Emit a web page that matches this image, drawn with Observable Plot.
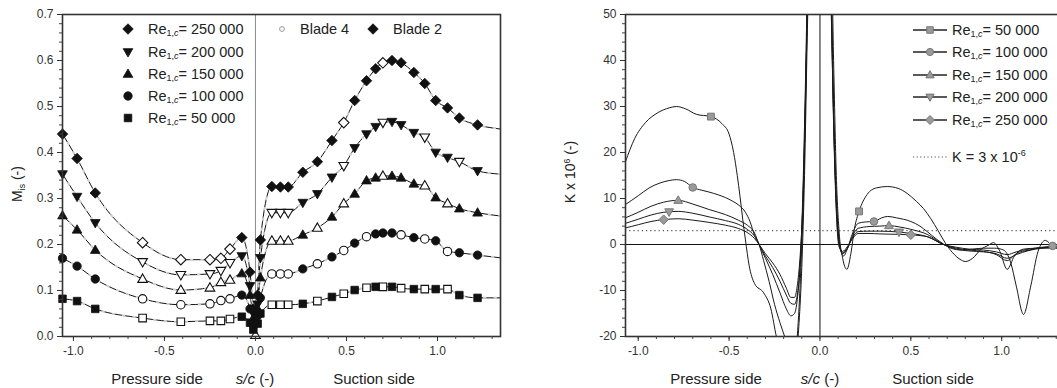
<!DOCTYPE html>
<html>
<head>
<meta charset="utf-8">
<script src="https://cdn.jsdelivr.net/npm/d3@7"></script>
<script src="https://cdn.jsdelivr.net/npm/@observablehq/plot@0.6"></script>
<style>
  html, body { margin: 0; padding: 0; background: #fff; overflow: hidden; }
  body { font-family: "Liberation Sans", Arial, Helvetica, sans-serif; color: #222; }
  #wrap { position: relative; width: 1057px; height: 388px; overflow: hidden; }
  .panel { position: absolute; top: 0; }
  .t { position: absolute; white-space: nowrap; line-height: 1; }
  sub { font-size: 0.62em; vertical-align: -0.3em; line-height: 0; }
  sup { font-size: 0.62em; vertical-align: 0.6em; line-height: 0; }
  svg.sym { position: absolute; overflow: visible; }
</style>
</head>
<body>
<div id="wrap"></div>
<script>
// ---------- Isentropic Mach number M_is along the blade surface ----------
// Pressure-tap positions s/c (negative = pressure side, positive = suction side)
const stationS = [-1.06, -0.98, -0.88, -0.62, -0.41, -0.25, -0.19, -0.14, -0.075, -0.03,
  -0.012, 0, 0.012, 0.027, 0.09, 0.137, 0.18, 0.26, 0.34, 0.42,
  0.485, 0.545, 0.61, 0.66, 0.70, 0.75, 0.80, 0.87, 0.93, 0.99,
  1.055, 1.12, 1.22, 1.346];

const reLabels = ["250 000", "200 000", "150 000", "100 000", "50 000"];

const mis250 = [0.44, 0.387, 0.312, 0.204, 0.167, 0.167, 0.170, 0.190, 0.215, 0.14,
  0.06, 0.005, 0.09, 0.21, 0.326, 0.325, 0.325, 0.357, 0.38, 0.426,
  0.465, 0.513, 0.556, 0.582, 0.595, 0.600, 0.595, 0.574, 0.55, 0.513,
  0.497, 0.475, 0.46, 0.451];
const mis200 = [0.353, 0.304, 0.247, 0.162, 0.134, 0.136, 0.143, 0.160, 0.175, 0.11,
  0.05, 0.004, 0.07, 0.171, 0.269, 0.269, 0.269, 0.291, 0.31, 0.346,
  0.371, 0.41, 0.44, 0.456, 0.465, 0.467, 0.46, 0.443, 0.433, 0.40,
  0.389, 0.38, 0.36, 0.353];
const mis150 = [0.263, 0.232, 0.188, 0.125, 0.101, 0.106, 0.118, 0.123, 0.137, 0.09,
  0.04, 0.003, 0.06, 0.128, 0.208, 0.208, 0.208, 0.221, 0.236, 0.26,
  0.289, 0.31, 0.339, 0.345, 0.349, 0.349, 0.345, 0.332, 0.328, 0.302,
  0.289, 0.278, 0.269, 0.262];
const mis100 = [0.17, 0.153, 0.125, 0.082, 0.069, 0.071, 0.078, 0.082, 0.09, 0.06,
  0.03, 0.002, 0.045, 0.084, 0.136, 0.136, 0.136, 0.147, 0.158, 0.173,
  0.187, 0.203, 0.217, 0.223, 0.225, 0.225, 0.221, 0.215, 0.212, 0.208,
  0.185, 0.182, 0.177, 0.171];
const mis50 = [0.082, 0.077, 0.060, 0.040, 0.032, 0.034, 0.034, 0.038, 0.043, 0.03,
  0.015, 0.001, 0.028, 0.05, 0.069, 0.069, 0.069, 0.071, 0.077, 0.086,
  0.093, 0.101, 0.106, 0.108, 0.108, 0.108, 0.105, 0.103, 0.103, 0.103,
  0.103, 0.09, 0.084, 0.084];

// Which blade each plotted marker belongs to: f = Blade 2 (filled), o = Blade 4 (open), - = no marker
const kind250 = "fffoooooff" + "f-ffffffff" + "offfoffff" + "ffff-";
const kind200 = "fffoooooff" + "f-ffooofff" + "offfofffo" + "ffof-";
const kind150 = "fffoooooff" + "foffooofof" + "offfofffo" + "foff-";
const kind100 = "fffoooooff" + "f-ffooofof" + "ofofffofo" + "foff-";
const kind50  = "fffoooooff" + "f-ffooofof" + "ofofofofo" + "foff-";

// ---------- Acceleration parameter K along the blade surface ----------
const kS50 = [-1.07, -1.02, -0.96, -0.89, -0.83, -0.79, -0.74, -0.68, -0.60, -0.54,
  -0.50, -0.475, -0.455, -0.44, -0.425, -0.41, -0.39, -0.36, -0.31, -0.27,
  -0.24, -0.2, -0.16, -0.125, -0.105, -0.09, -0.075, -0.05,
  0.05, 0.075, 0.09, 0.105, 0.125, 0.148, 0.17, 0.19, 0.215, 0.26,
  0.31, 0.37, 0.43, 0.48, 0.53, 0.57, 0.61, 0.65, 0.69, 0.73,
  0.77, 0.80, 0.84, 0.885, 0.925, 0.955, 0.99, 1.03, 1.07, 1.12,
  1.2, 1.28, 1.36];
const kK50 = [18, 23, 26.5, 28.7, 29.7, 30, 29.5, 28.3, 27.8, 26.3,
  24, 20, 15, 10.5, 5.5, 1, -4.5, -8.5, -10.5, -14,
  -20, -26, -29, -20, -5, 12, 40, 90,
  90, 40, 15, 3, -3, -5.4, -2, 3.5, 7.2, 10.9,
  12.3, 12.6, 12.2, 11.1, 9.4, 7.8, 5.6, 3, 0.3, -1.8,
  -3.2, -3.7, -3, -1.1, -0.2, 0.4, -1.5, -5.4, -2.5, -1,
  -0.8, -0.8, -0.9];

const kS100 = [-1.07, -1.0, -0.94, -0.885, -0.83, -0.79, -0.745, -0.70, -0.65, -0.61,
  -0.56, -0.52, -0.48, -0.445, -0.41, -0.385, -0.36, -0.335, -0.31, -0.28,
  -0.25, -0.22, -0.19, -0.16, -0.135, -0.115, -0.1, -0.085, -0.07, -0.04,
  0.04, 0.065, 0.08, 0.095, 0.11, 0.13, 0.15, 0.18, 0.21, 0.25,
  0.297, 0.34, 0.373, 0.42, 0.5, 0.55, 0.59, 0.64, 0.68, 0.72,
  0.78, 0.84, 0.9, 0.96, 1.01, 1.05, 1.08, 1.12, 1.16, 1.2,
  1.24, 1.28, 1.36];
const kK100 = [8.7, 10.6, 12.3, 13.3, 13.9, 14.1, 13.7, 12.4, 11.8, 11.4,
  10.8, 10.2, 9.4, 8.5, 7, 5, 2, 0, -3.5, -8,
  -13, -17, -20.5, -24, -25, -17, -5, 15, 45, 90,
  90, 45, 20, 6, -0.5, -2.5, -1, 2.5, 4.6, 4.9,
  5.0, 5.8, 6.1, 5.8, 5.0, 4.0, 2.8, 1.2, 0.1, -0.8,
  -1.2, -1.0, -0.8, -0.8, -1.2, -4, -9, -15.2, -9, -1.5,
  0.9, -0.3, -0.9];

const kS150 = [-1.07, -1.0, -0.93, -0.86, -0.78, -0.70, -0.61, -0.52, -0.45, -0.40,
  -0.36, -0.335, -0.30, -0.26, -0.22, -0.185, -0.16, -0.14, -0.125, -0.11,
  -0.095, -0.08, -0.065, -0.04, 0.04, 0.06, 0.075, 0.09, 0.105, 0.125,
  0.15, 0.18, 0.21, 0.27, 0.33, 0.38, 0.44, 0.5, 0.59, 0.68,
  0.75, 0.82, 0.9, 0.97, 1.03, 1.08, 1.15, 1.22, 1.3, 1.36];
const kK150 = [5.8, 7.0, 8.3, 9.2, 9.6, 8.8, 7.6, 6.5, 5.3, 4.2,
  2.5, 0, -3, -6.5, -10.5, -14, -15.5, -15, -12, -5,
  10, 35, 65, 90, 90, 60, 30, 10, 1, -2,
  -1, 2, 3.5, 3.9, 4.0, 4.1, 3.8, 3.3, 2.2, 0,
  -1, -1.4, -1.6, -2, -3, -2.2, -1.3, -0.8, -0.5, -0.5];
const kS200 = kS150;
const kK200 = [4.6, 5.5, 6.4, 7.0, 7.2, 6.8, 6.0, 5.2, 4.4, 3.3,
  1.8, 0, -2.5, -5, -8, -11, -12.8, -13, -11, -5,
  8, 32, 62, 90, 90, 58, 28, 8, 0, -1.8,
  -0.8, 1.6, 2.8, 2.9, 2.9, 2.85, 2.7, 2.4, 1.7, 0,
  -0.8, -1.2, -1.5, -2.2, -3.5, -2, -1.2, -0.7, -0.5, -0.5];
const kS250 = kS150;
const kK250 = [3.6, 4.3, 5.0, 5.4, 5.6, 5.3, 4.8, 4.2, 3.5, 2.6,
  1.3, 0, -2, -4, -6.5, -9.5, -11.5, -11.5, -9, -3,
  8, 30, 60, 90, 90, 56, 26, 7, -0.5, -1.5,
  -0.5, 1.3, 2.4, 2.4, 2.3, 2.25, 2.2, 2.1, 1.7, 0,
  -0.6, -1, -1.2, -1.6, -2.2, -1.6, -1, -0.6, -0.4, -0.4];

// Symbol positions on the K curves
const kMarkRe = ["50 000", "50 000", "100 000", "100 000", "100 000", "150 000", "150 000", "200 000", "200 000", "250 000", "250 000"];
const kMarkS  = [-0.60, 0.215, -0.70, 0.297, 1.28, -0.78, 0.38, -0.83, 0.435, -0.86, 0.5];
const kMarkK  = [27.8, 7.2, 12.4, 5.0, -0.3, 9.6, 4.1, 7.1, 2.7, 5.4, 2.1];
const kRef = 3; // K = 3 x 10^-6 threshold

// ---------- marker shapes ----------
const sym = {
  circle: {draw(c, size) { const r = Math.sqrt(size / Math.PI); c.moveTo(r, 0); c.arc(0, 0, r, 0, 2 * Math.PI); }},
  square: {draw(c, size) { const a = Math.sqrt(size / Math.PI) * 0.9; c.rect(-a, -a, 2 * a, 2 * a); }},
  diamond: {draw(c, size) { const h = Math.sqrt(size / Math.PI) * 1.25; c.moveTo(0, -h); c.lineTo(h, 0); c.lineTo(0, h); c.lineTo(-h, 0); c.closePath(); }},
  triUp: {draw(c, size) { const r = Math.sqrt(size / Math.PI); c.moveTo(0, -1.2 * r); c.lineTo(1.15 * r, 0.8 * r); c.lineTo(-1.15 * r, 0.8 * r); c.closePath(); }},
  triDown: {draw(c, size) { const r = Math.sqrt(size / Math.PI); c.moveTo(0, 1.2 * r); c.lineTo(1.15 * r, -0.8 * r); c.lineTo(-1.15 * r, -0.8 * r); c.closePath(); }}
};
const symByRe = {"250 000": sym.diamond, "200 000": sym.triDown, "150 000": sym.triUp, "100 000": sym.circle, "50 000": sym.square};
function symPath(s, r) { const p = d3.path(); s.draw(p, r * r * Math.PI); return p.toString(); }

const font = "'Liberation Sans', Arial, Helvetica, sans-serif";
const fmt1 = d => d.toFixed(1);

// ---------- left panel ----------
const misSeries = [
  {re: "250 000", m: mis250, kind: kind250},
  {re: "200 000", m: mis200, kind: kind200},
  {re: "150 000", m: mis150, kind: kind150},
  {re: "100 000", m: mis100, kind: kind100},
  {re: "50 000", m: mis50, kind: kind50}
];
const misRows = misSeries.flatMap(sr => stationS.map((s, i) => ({re: sr.re, s, m: sr.m[i], kind: sr.kind[i]})));

const leftMarks = [
  Plot.ruleX([0], {stroke: "#8a8a8a", strokeWidth: 1}),
  Plot.line(misRows, {x: "s", y: "m", z: "re", curve: "monotone-x", stroke: "#111", strokeWidth: 1}),
  Plot.line(misRows, {x: "s", y: "m", z: "re", curve: "monotone-x", stroke: "#cfcfcf", strokeWidth: 2, strokeDasharray: "1.5 9"})
];
for (const sr of misSeries) {
  const s = symByRe[sr.re];
  leftMarks.push(Plot.dot(misRows.filter(d => d.re === sr.re && d.kind === "o"),
    {x: "s", y: "m", symbol: s, r: 4.2, fill: "white", stroke: "#111", strokeWidth: 1.1}));
  leftMarks.push(Plot.dot(misRows.filter(d => d.re === sr.re && d.kind === "f"),
    {x: "s", y: "m", symbol: s, r: 4.2, fill: "#111", stroke: "#111", strokeWidth: 0.8}));
}
leftMarks.push(
  Plot.frame({stroke: "#333", strokeWidth: 1.6}),
  Plot.axisY({ticks: d3.range(0, 36).map(i => i / 50), tickSize: 3, tickFormat: () => "", label: null, color: "#444"}),
  Plot.axisY({ticks: d3.range(0, 8).map(i => i / 10), tickSize: 5, tickPadding: 4, tickFormat: fmt1, label: null, color: "#333"}),
  Plot.axisX({ticks: d3.range(-10, 14).map(i => i / 10), tickSize: 3, tickFormat: () => "", label: null, color: "#444"}),
  Plot.axisX({ticks: [-1, -0.5, 0, 0.5, 1], tickSize: 5, tickPadding: 5, tickFormat: fmt1, label: null, color: "#333"})
);

const left = Plot.plot({
  width: 530, height: 388,
  marginLeft: 62, marginRight: 30, marginTop: 14, marginBottom: 52,
  x: {domain: [-1.06, 1.346]},
  y: {domain: [0, 0.7]},
  style: {fontFamily: font, fontSize: "12px", background: "transparent", overflow: "visible"},
  marks: leftMarks
});
left.classList.add("panel");
left.style.left = "0px";

// ---------- right panel ----------
const kSeries = [
  {re: "50 000", s: kS50, k: kK50},
  {re: "100 000", s: kS100, k: kK100},
  {re: "150 000", s: kS150, k: kK150},
  {re: "200 000", s: kS200, k: kK200},
  {re: "250 000", s: kS250, k: kK250}
];
const kRows = kSeries.flatMap(sr => sr.s.map((s, i) => ({re: sr.re, s, k: sr.k[i]})));
const kMarks = kMarkRe.map((re, i) => ({re, s: kMarkS[i], k: kMarkK[i]}));

const rightMarks = [
  Plot.ruleY([kRef], {stroke: "#555", strokeWidth: 1.2, strokeDasharray: "1.2 3"}),
  Plot.ruleY([0], {stroke: "#111", strokeWidth: 1}),
  Plot.ruleX([0], {stroke: "#111", strokeWidth: 1}),
  Plot.line(kRows, {x: "s", y: "k", z: "re", curve: "monotone-x", stroke: "#1a1a1a", strokeWidth: 1, clip: true})
];
for (const sr of kSeries) {
  rightMarks.push(Plot.dot(kMarks.filter(d => d.re === sr.re),
    {x: "s", y: "k", symbol: symByRe[sr.re], r: 3.8, fill: "#9a9a9a", stroke: "#777", strokeWidth: 1}));
}
rightMarks.push(
  Plot.frame({stroke: "#333", strokeWidth: 1.6}),
  Plot.axisY({ticks: d3.range(-10, 26).map(i => i * 2), tickSize: 3, tickFormat: () => "", label: null, color: "#444"}),
  Plot.axisY({ticks: d3.range(-20, 51, 10), tickSize: 5, tickPadding: 4, tickFormat: d => String(d), label: null, color: "#333"}),
  Plot.axisX({ticks: d3.range(-10, 14).map(i => i / 10), tickSize: 3, tickFormat: () => "", label: null, color: "#444"}),
  Plot.axisX({ticks: [-1, -0.5, 0, 0.5, 1], tickSize: 5, tickPadding: 5, tickFormat: fmt1, label: null, color: "#333"})
);

const right = Plot.plot({
  width: 563, height: 388,
  marginLeft: 95, marginRight: 30, marginTop: 14, marginBottom: 52,
  x: {domain: [-1.07, 1.34]},
  y: {domain: [-20, 50]},
  style: {fontFamily: font, fontSize: "12px", background: "transparent", overflow: "visible"},
  marks: rightMarks
});
right.classList.add("panel");
right.style.left = "530px";

const wrap = document.getElementById("wrap");
wrap.append(left, right);

// ---------- titles and legends (HTML overlays) ----------
function addText(html, x, y, {size = 14, anchor = "start", rotate = 0, color = "#222"} = {}) {
  const el = document.createElement("div");
  el.className = "t";
  el.innerHTML = html;
  el.style.left = x + "px";
  el.style.top = y + "px";
  el.style.fontSize = size + "px";
  el.style.color = color;
  const tx = anchor === "middle" ? "-50%" : "0";
  el.style.transform = `translate(${tx}, -50%)` + (rotate ? ` rotate(${rotate}deg)` : "");
  if (rotate) { el.style.transform = `translate(-50%, -50%) rotate(${rotate}deg)`; }
  wrap.appendChild(el);
}
function addSymbol(x, y, inner, w = 40, h = 16) {
  const ns = "http://www.w3.org/2000/svg";
  const s = document.createElementNS(ns, "svg");
  s.setAttribute("class", "sym");
  s.setAttribute("width", w);
  s.setAttribute("height", h);
  s.setAttribute("viewBox", `${-w / 2} ${-h / 2} ${w} ${h}`);
  s.style.left = (x - w / 2) + "px";
  s.style.top = (y - h / 2) + "px";
  s.innerHTML = inner;
  wrap.appendChild(s);
}

// axis titles
addText("Pressure side", 157, 378, {size: 15, anchor: "middle"});
addText("<i>s/c</i> (-)", 255, 378, {size: 15, anchor: "middle"});
addText("Suction side", 374, 378, {size: 15, anchor: "middle"});
addText("Pressure side", 716, 378, {size: 15, anchor: "middle"});
addText("<i>s/c</i> (-)", 820, 378, {size: 15, anchor: "middle"});
addText("Suction side", 933, 378, {size: 15, anchor: "middle"});
addText("M<sub>is</sub> (-)", 17, 184, {size: 14, rotate: -90});
addText("K x 10<sup>6</sup> (-)", 570, 172, {size: 14, rotate: -90});

// left legend: Reynolds numbers (Blade 2 symbols) and blade key
const leftRows = [29, 52, 74, 96, 118];
reLabels.forEach((re, i) => {
  addSymbol(128, leftRows[i], `<path d="${symPath(symByRe[re], 4.2)}" fill="#111" stroke="#111" stroke-width="0.8"/>`, 16, 16);
  addText(`Re<sub>1,<i>c</i></sub>= ${re}`, 148, leftRows[i], {size: 14.5});
});
addSymbol(282, 29, `<circle r="2.4" fill="white" stroke="#999" stroke-width="1"/>`, 10, 10);
addText("Blade 4", 300, 29, {size: 14.5});
addSymbol(373, 29, `<path d="${symPath(sym.diamond, 4.2)}" fill="#111" stroke="#111" stroke-width="0.8"/>`, 16, 16);
addText("Blade 2", 393, 29, {size: 14.5});

// right legend
const rightRows = [30, 52, 75, 97, 120];
["50 000", "100 000", "150 000", "200 000", "250 000"].forEach((re, i) => {
  addSymbol(929.5, rightRows[i],
    `<line x1="-17" x2="17" y1="0" y2="0" stroke="#222" stroke-width="1.4"/>` +
    `<path d="${symPath(symByRe[re], 3.6)}" fill="#9a9a9a" stroke="#777" stroke-width="1"/>`, 40, 16);
  addText(`Re<sub>1,<i>c</i></sub>= ${re}`, 952, rightRows[i], {size: 14.5});
});
addSymbol(929.5, 157, `<line x1="-17" x2="17" y1="0" y2="0" stroke="#555" stroke-width="1.2" stroke-dasharray="1.2 2.4"/>`, 40, 16);
addText("K = 3 x 10<sup>-6</sup>", 952, 157, {size: 14.5});
</script>
</body>
</html>
